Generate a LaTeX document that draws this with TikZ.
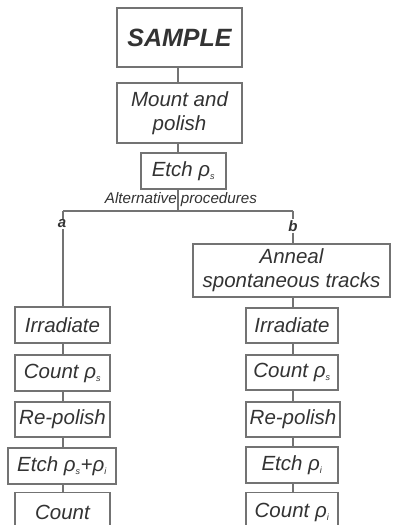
\documentclass[tikz,border=0pt]{standalone}
\usepackage{fontspec}
\setmainfont{Liberation Sans}
\begin{document}
\begin{tikzpicture}[x=1pt,y=-1pt,
  every node/.style={text=black!80},
  box/.style={draw=black!55, line width=1.1pt, rectangle, inner sep=0pt, align=center,
    font=\fontsize{20.5}{24}\selectfont\itshape},
  link/.style={draw=black!55, line width=1.1pt},
  branch/.style={inner sep=1pt, font=\fontsize{15}{16}\selectfont\bfseries\itshape}]
\useasboundingbox (0,0) rectangle (392,525);
\fill[white] (0,0) rectangle (392,525);
\newcommand{\rhos}{\textit{ρ}\textsubscript{\fontsize{9}{9}\selectfont s}}
\newcommand{\rhoi}{\textit{ρ}\textsubscript{\fontsize{9}{9}\selectfont i}}

% main trunk
\node[box, minimum width=125pt, minimum height=59pt,
  font=\fontsize{25}{28}\selectfont\bfseries\itshape] (sample) at (179.5,37.5) {SAMPLE};
\node[box, minimum width=125pt, minimum height=60pt] (mount) at (179.5,113) {Mount and\\polish};
\node[box, minimum width=85pt, minimum height=36pt] (etch) at (183.5,171) {Etch \rhos};
\node[font=\fontsize{15.2}{16}\selectfont\itshape, inner sep=0pt] (alt) at (181,200) {Alternative procedures};
\coordinate (split) at (178,211);
\coordinate (la) at (63,211);
\coordinate (lb) at (293,211);
\node[branch] (a) at (62,224) {a};
\node[branch] (b) at (293,226) {b};

% procedure a
\node[box, minimum width=95pt, minimum height=36pt] (a1) at (62.5,325) {Irradiate};
\node[box, minimum width=95pt, minimum height=36pt] (a2) at (62.5,373) {Count \rhos};
\node[box, minimum width=95pt, minimum height=35pt] (a3) at (62.5,419.5) {Re-polish};
\node[box, minimum width=108pt, minimum height=36pt] (a4) at (62,466) {Etch \rhos+\rhoi};
\node[box, minimum width=95pt, minimum height=40pt, anchor=north] (a5) at (62.5,492) {Count};

% procedure b
\node[box, minimum width=197pt, minimum height=53pt] (b0) at (291.5,270.5) {Anneal\\spontaneous tracks};
\node[box, minimum width=92pt, minimum height=35pt] (b1) at (292,325.5) {Irradiate};
\node[box, minimum width=92pt, minimum height=35pt] (b2) at (292,372.5) {Count \rhos};
\node[box, minimum width=94pt, minimum height=35pt] (b3) at (293,419.5) {Re-polish};
\node[box, minimum width=92pt, minimum height=36pt] (b4) at (292,465) {Etch \rhoi};
\node[box, minimum width=92pt, minimum height=40pt, anchor=north] (b5) at (292,492) {Count \rhoi};

% connectors
\draw[link] (sample.south -| split) -- (mount.north -| split);
\draw[link] (mount.south -| split) -- (etch.north -| split);
\draw[link] (etch.south -| split) -- (split);
\draw[link] (la) -- (lb);
\draw[link] (la) -- (a.north -| la);
\draw[link] (lb) -- (b.north -| lb);
\draw[link] (a.south -| la) -- (a1.north -| la);
\draw[link] (a1.south -| la) -- (a2.north -| la);
\draw[link] (a2.south -| la) -- (a3.north -| la);
\draw[link] (a3.south -| la) -- (a4.north -| la);
\draw[link] (a4.south -| la) -- (a5.north -| la);
\draw[link] (b.south -| lb) -- (b0.north -| lb);
\draw[link] (b0.south -| lb) -- (b1.north -| lb);
\draw[link] (b1.south -| lb) -- (b2.north -| lb);
\draw[link] (b2.south -| lb) -- (b3.north -| lb);
\draw[link] (b3.south -| lb) -- (b4.north -| lb);
\draw[link] (b4.south -| lb) -- (b5.north -| lb);
\end{tikzpicture}
\end{document}
